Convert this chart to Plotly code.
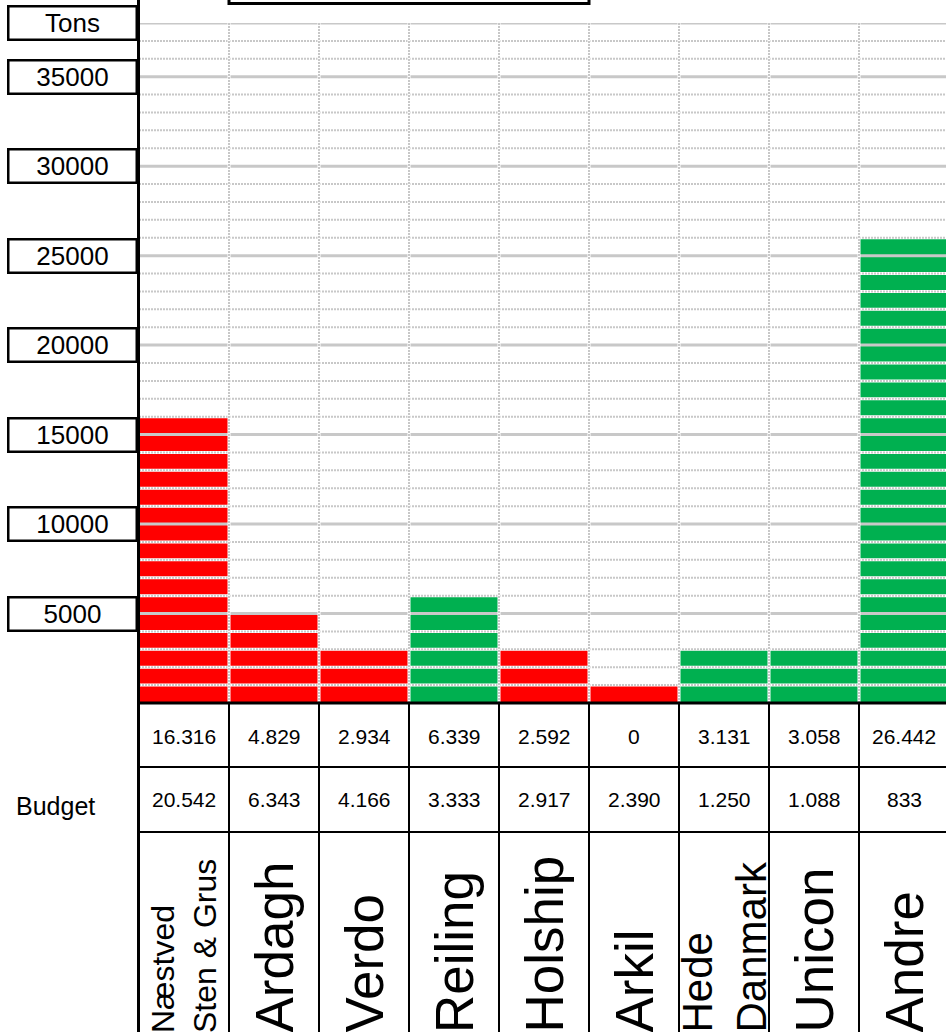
import plotly.graph_objects as go

W, H = 946, 1032

# ---------------- data ----------------
companies = ["Næstved<br>Sten & Grus", "Ardagh", "Verdo", "Reiling", "Holship",
             "Arkil", "Hede<br>Danmark", "Unicon", "Andre"]
actual_tons = [16316, 4829, 2934, 6339, 2592, 0, 3131, 3058, 26442]
budget_tons = [20542, 6343, 4166, 3333, 2917, 2390, 1250, 1088, 833]
# bars are drawn in whole 1000-ton blocks
bar_blocks_k = [16, 5, 3, 6, 3, 1, 3, 3, 26]
tick_values = [5000, 10000, 15000, 20000, 25000, 30000, 35000]
y_top = 38000
axis_title = "Tons"
row_label = "Budget"

# ---------------- styles ----------------
FONT = "Liberation Sans, Arial, sans-serif"
RED = "#FF0000"
GREEN = "#00B050"
GRID = "#C8C8C8"
name_font_sizes = [32, 53, 53, 53, 53, 53, 42, 53, 53]

PL, PT, PB = 139, 23, 703          # plot area pixels
COLW = 90


def px(x):
    return x / W


def py(y):
    return 1 - y / H


def fmt(v):
    return f"{v:,}".replace(",", ".")


bar_values = [b * 1000 for b in bar_blocks_k]
colors = [GREEN if a >= b else RED for a, b in zip(actual_tons, budget_tons)]

fig = go.Figure()
fig.add_trace(go.Bar(x=companies, y=bar_values, marker=dict(color=colors, line=dict(width=0)),
                     width=1.0, hoverinfo="skip", showlegend=False))

n = len(companies)
x_right = -0.5 + (W - PL) / COLW

shapes = []
# horizontal grid
for k in range(1000, y_top + 1, 1000):
    if k % 5000 == 0 or k == y_top:
        shapes.append(dict(type="line", xref="x", yref="y", x0=-0.5, x1=x_right, y0=k, y1=k,
                           line=dict(color=GRID, width=3), layer="above"))
    else:
        shapes.append(dict(type="line", xref="x", yref="y", x0=-0.5, x1=x_right, y0=k, y1=k,
                           line=dict(color="white", width=3), layer="above"))
        shapes.append(dict(type="line", xref="x", yref="y", x0=-0.5, x1=x_right, y0=k, y1=k,
                           line=dict(color=GRID, width=2, dash="2px,1px"), layer="above"))
# vertical grid at column boundaries
for i in range(1, n):
    xb = i - 0.5
    shapes.append(dict(type="line", xref="x", yref="y", x0=xb, x1=xb, y0=0, y1=y_top,
                       line=dict(color="white", width=3), layer="above"))
    shapes.append(dict(type="line", xref="x", yref="y", x0=xb, x1=xb, y0=0, y1=y_top,
                       line=dict(color=GRID, width=2, dash="2px,1px"), layer="above"))

# axis lines
shapes.append(dict(type="line", xref="paper", yref="paper", x0=px(138.5), x1=px(138.5),
                   y0=py(0), y1=py(H), line=dict(color="black", width=3), layer="above"))
shapes.append(dict(type="line", xref="paper", yref="paper", x0=px(137), x1=1,
                   y0=py(PB), y1=py(PB), line=dict(color="black", width=3), layer="above"))
# table lines
for yy in (767, 832):
    shapes.append(dict(type="line", xref="paper", yref="paper", x0=px(138), x1=1,
                       y0=py(yy), y1=py(yy), line=dict(color="black", width=2), layer="above"))
for i in range(1, n):
    xb = i - 0.5
    shapes.append(dict(type="line", xref="x", yref="paper", x0=xb, x1=xb,
                       y0=py(PB), y1=py(H + 2), line=dict(color="black", width=2), layer="above"))
# top box (cut off)
shapes.append(dict(type="rect", xref="paper", yref="paper", x0=px(229), x1=px(589),
                   y0=py(3.5), y1=py(-40), line=dict(color="black", width=3),
                   fillcolor="white", layer="above"))

annotations = []
# y tick label boxes
for v in tick_values + [y_top]:
    txt = axis_title if v == y_top else str(v)
    annotations.append(dict(xref="paper", yref="y", x=px(7), y=v, xanchor="left", yanchor="middle",
                            text=txt, showarrow=False, font=dict(family=FONT, size=26, color="black"),
                            width=126, height=31, borderpad=0, borderwidth=2.5,
                            bordercolor="black", bgcolor="white"))
# table values
for i, c in enumerate(companies):
    annotations.append(dict(xref="x", yref="paper", x=c, y=py(736), xanchor="center",
                            yanchor="middle", text=fmt(actual_tons[i]), showarrow=False,
                            font=dict(family=FONT, size=21, color="black")))
    annotations.append(dict(xref="x", yref="paper", x=c, y=py(799), xanchor="center",
                            yanchor="middle", text=fmt(budget_tons[i]), showarrow=False,
                            font=dict(family=FONT, size=21, color="black")))
    annotations.append(dict(xref="x", yref="paper", x=c, y=py(1034), xanchor="center",
                            yanchor="bottom", text=c, showarrow=False, textangle=-90,
                            align="left", borderpad=0,
                            font=dict(family=FONT, size=name_font_sizes[i], color="black")))
annotations.append(dict(xref="paper", yref="paper", x=px(55), y=py(806), xanchor="center",
                        yanchor="middle", text=row_label, showarrow=False,
                        font=dict(family=FONT, size=25, color="black")))

fig.update_layout(
    width=W, height=H,
    margin=dict(l=0, r=0, t=0, b=0),
    paper_bgcolor="white", plot_bgcolor="white",
    bargap=0,
    xaxis=dict(domain=[PL / W, 1], range=[-0.5, x_right], showgrid=False, zeroline=False,
               showticklabels=False, ticks="", showline=False, type="category"),
    yaxis=dict(domain=[py(PB), py(PT)], range=[0, y_top], showgrid=False, zeroline=False,
               showticklabels=False, ticks="", showline=False),
    shapes=shapes,
    annotations=annotations,
    showlegend=False,
)

fig.write_html("out.html", config={"displayModeBar": False},
               post_script="document.body.style.margin='0';document.body.style.overflow='hidden';")
